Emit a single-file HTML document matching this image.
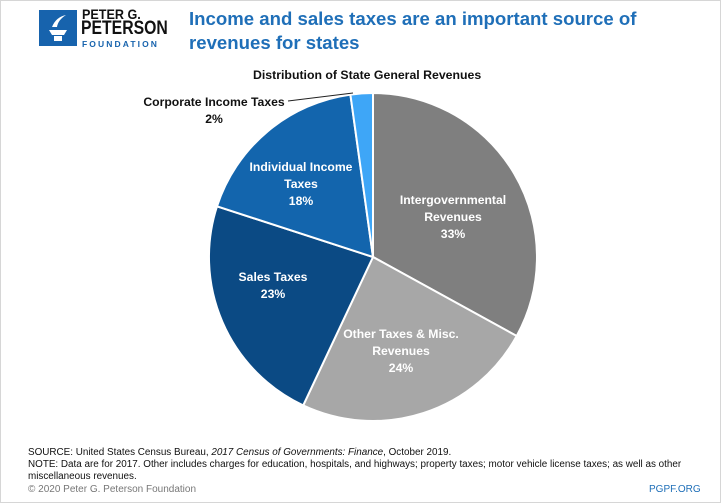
<!DOCTYPE html>
<html><head><meta charset="utf-8"><style>
body{margin:0;background:#fff;}
#w{position:relative;width:719px;height:501px;border:1px solid #d6d6d6;overflow:hidden;font-family:"Liberation Sans",sans-serif;}
.t{position:absolute;white-space:nowrap;}
</style></head><body><div id="w">
<svg style="position:absolute;left:38px;top:9px" width="38" height="36"><rect width="38" height="36" fill="#1763ad"/><path d="M10 20 h18 l-3 5 h-12z M15 26 h8 v5 h-8z" fill="#fff"/><path d="M13 17 q4-10 14-12 q-8 5-9 12z" fill="#fff"/></svg>
<div class="t" style="left:81px;top:6px;font-size:14px;font-weight:bold;color:#111;line-height:14px;transform:scaleX(0.9);transform-origin:0 0">PETER G.</div>
<div class="t" style="left:80px;top:18px;font-size:19px;font-weight:bold;color:#111;line-height:20px;transform:scaleX(0.83);transform-origin:0 0">PETERSON</div>
<div class="t" style="left:81px;top:38px;font-size:8.5px;letter-spacing:2.1px;color:#1763ad;font-weight:bold">FOUNDATION</div>
<div class="t" style="left:188px;top:6px;font-size:18.6px;font-weight:bold;color:#1f6fb8;line-height:24px">Income and sales taxes are an important source of<br>revenues for states</div>
<div class="t" style="left:252px;top:67px;font-size:12.3px;font-weight:bold;color:#111">Distribution of State General Revenues</div>
<svg style="position:absolute;left:0;top:0" width="721" height="430">
<g stroke="#fff" stroke-width="2">
<path d="M372 256 L372 92 A164 164 0 0 1 515.7 335 Z" fill="#7f7f7f"/>
<path d="M372 256 L515.7 335 A164 164 0 0 1 302.2 404.4 Z" fill="#a7a7a7"/>
<path d="M372 256 L302.2 404.4 A164 164 0 0 1 216 205.3 Z" fill="#0b4a84"/>
<path d="M372 256 L216 205.3 A164 164 0 0 1 349.4 93.6 Z" fill="#1365ad"/>
<path d="M372 256 L349.4 93.6 A164 164 0 0 1 372 92 Z" fill="#3ea6f7"/>
</g>
<line x1="287" y1="100" x2="352" y2="92" stroke="#222" stroke-width="1"/>
</svg>
<div class="t" style="left:138px;top:93px;font-size:12.2px;font-weight:bold;color:#111;text-align:center;line-height:17px;width:150px">Corporate Income Taxes<br>2%</div>
<div class="t" style="left:240px;top:158px;font-size:12.2px;font-weight:bold;color:#fff;text-align:center;line-height:17px;width:120px">Individual Income<br>Taxes<br>18%</div>
<div class="t" style="left:392px;top:191px;font-size:12.2px;font-weight:bold;color:#fff;text-align:center;line-height:17px;width:120px">Intergovernmental<br>Revenues<br>33%</div>
<div class="t" style="left:232px;top:268px;font-size:12.2px;font-weight:bold;color:#fff;text-align:center;line-height:17px;width:80px">Sales Taxes<br>23%</div>
<div class="t" style="left:340px;top:325px;font-size:12.2px;font-weight:bold;color:#fff;text-align:center;line-height:17px;width:120px">Other Taxes &amp; Misc.<br>Revenues<br>24%</div>
<div class="t" style="left:27px;top:446px;font-size:9.9px;color:#111;line-height:12px">SOURCE: United States Census Bureau, <i>2017 Census of Governments: Finance</i>, October 2019.<br>NOTE: Data are for 2017. Other includes charges for education, hospitals, and highways; property taxes; motor vehicle license taxes; as well as other<br>miscellaneous revenues.</div>
<div class="t" style="left:27px;top:483px;font-size:10px;color:#777">© 2020 Peter G. Peterson Foundation</div>
<div class="t" style="left:648px;top:483px;font-size:10px;color:#1f6fb8">PGPF.ORG</div>
</div></body></html>
